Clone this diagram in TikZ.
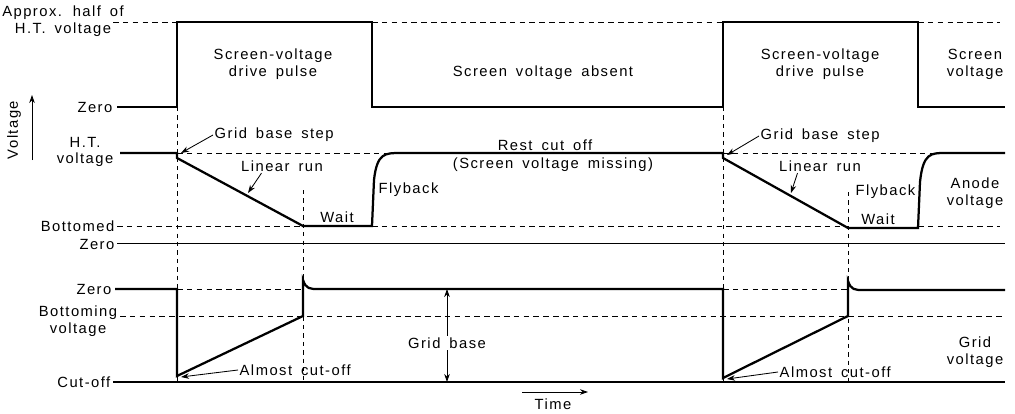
\documentclass[tikz,border=0pt]{standalone}
\usepackage{fontspec}
\setmainfont[LetterSpace=10,WordSpace=1.6]{Liberation Sans}
\usetikzlibrary{positioning,arrows.meta,calc}
\tikzset{
  wave/.style={line width=1.6pt, line join=miter},
  level/.style={dash pattern=on 4pt off 3pt, line width=0.6pt},
  guide/.style={dash pattern=on 3pt off 3pt, line width=0.6pt},
  axisline/.style={line width=0.7pt},
  lbl/.style={font=\fontsize{10.5}{12}\selectfont, inner sep=1pt, align=center},
  arr/.style={-{Stealth[length=2mm,width=1.4mm]}, line width=0.6pt},
}

\begin{document}
\begin{tikzpicture}[x=0.025cm, y=-0.025cm]
    \useasboundingbox (0,0) rectangle (1015,414);
    % guide lines (time marks)
    \draw[guide] (177,107) -- (177,382);
    \draw[guide] (303,190) -- (303,382);
    \draw[guide] (723,107) -- (723,382);
    \draw[guide] (848,192) -- (848,382);
    % dashed levels
    \draw[level] (113,22) -- (177,22);
    \draw[level] (372,22) -- (723,22);
    \draw[level] (918,22) -- (1000,22);
    \draw[level] (177,153) -- (400,153);
    \draw[level] (723,153) -- (945,153);
    \draw[level] (117,226) -- (303,226);
    \draw[level] (372,226) -- (848,226);
    \draw[level] (918,226) -- (1000,226);
    \draw[level] (177,289) -- (303,289);
    \draw[level] (723,289) -- (848,289);
    \draw[level] (120,316) -- (1005,316);
    % zero and cut-off lines
    \draw[axisline] (117,243) -- (1005,243);
    \draw[axisline, line width=1pt] (113,382) -- (1005,382);
    % screen voltage
    \draw[wave] (117,107) -- (177,107) -- (177,22) -- (372,22) -- (372,107)
      -- (723,107) -- (723,22) -- (918,22) -- (918,107) -- (1005,107);
    % anode voltage
    \draw[wave] (120,153) -- (177,153) -- (177,158) -- (303,226) -- (372,226)
      -- (374,180) .. controls (377,153) and (385,153) .. (400,153) -- (723,153)
      -- (723,158) -- (848,228) -- (918,228)
      -- (920,182) .. controls (923,153) and (931,153) .. (945,153) -- (1005,153);
    % grid voltage
    \draw[wave] (115,289) -- (177,289) -- (177,376) -- (303,316) -- (303,280)
      .. controls (306,289) and (310,289) .. (318,289) -- (723,289)
      -- (723,378) -- (848,316) -- (848,281)
      .. controls (851,290) and (855,290) .. (863,290) -- (1005,290);
    % level labels
    \node[lbl] (half) at (63,21) {Approx. half of\\H.T. voltage};
    \node[lbl, anchor=east] (zeroS) at (114,107) {Zero};
    \node[lbl] (htv) at (85,152) {H.T.\\voltage};
    \node[lbl, anchor=east] (bott) at (116,226) {Bottomed};
    \node[lbl, anchor=east] (zeroA) at (116,244) {Zero};
    \node[lbl, anchor=east] (zeroG) at (113,289) {Zero};
    \node[lbl] (botv) at (78,321) {Bottoming\\voltage};
    \node[lbl, anchor=east] (cutoff) at (112,382) {Cut-off};
    \node[lbl, rotate=90] (volt) at (14,130) {Voltage};
    \coordinate (vbot) at (32,160);
    \coordinate (vtop) at (32,95);
    \draw[arr] (vbot) -- (vtop);
    % screen labels
    \node[lbl] (pulse1) at (273,64) {Screen-voltage\\drive pulse};
    \node[lbl] (absent) at (543,73) {Screen voltage absent};
    \node[lbl] (pulse2) at (820,64) {Screen-voltage\\drive pulse};
    \node[lbl] (scrv) at (975,64) {Screen\\voltage};
    % anode labels
    \node[lbl, anchor=west] (step1) at (213,135) {Grid base step};
    \coordinate (step1tip) at (181,153);
    \draw[arr] (step1.west) -- (step1tip);
    \node[lbl] (run1) at (282,166) {Linear run};
    \coordinate (run1tip) at (248,193);
    \draw[arr] (run1.south west) ++(22,0) -- (run1tip);
    \node[lbl] (wait1) at (337,217) {Wait};
    \node[lbl, anchor=west] (fly1) at (377,190) {Flyback};
    \node[lbl] (rest) at (545,145) {Rest cut off};
    \node[lbl] (missing) at (553,165) {(Screen voltage missing)};
    \node[lbl, anchor=west] (step2) at (759,136) {Grid base step};
    \coordinate (step2tip) at (727,155);
    \draw[arr] (step2.west) -- (step2tip);
    \node[lbl] (run2) at (820,166) {Linear run};
    \coordinate (run2tip) at (791,193);
    \draw[arr] (run2.south west) ++(20,0) -- (run2tip);
    \node[lbl, anchor=east] (fly2) at (917,192) {Flyback};
    \node[lbl] (wait2) at (878,219) {Wait};
    \node[lbl] (anv) at (975,193) {Anode\\voltage};
    % grid labels
    \node[lbl] (gbase) at (447,343) {Grid base};
    \coordinate (gbtop) at (447,289);
    \coordinate (gbbot) at (447,382);
    \draw[arr] (gbase.north) -- (gbtop);
    \draw[arr] (gbase.south) -- (gbbot);
    \node[lbl, anchor=west] (almost1) at (238,370) {Almost cut-off};
    \coordinate (almost1tip) at (181,377);
    \draw[arr] (almost1.west) -- (almost1tip);
    \node[lbl, anchor=west] (almost2) at (778,372) {Almost cut-off};
    \coordinate (almost2tip) at (727,379);
    \draw[arr] (almost2.west) -- (almost2tip);
    \node[lbl] (gridv) at (975,352) {Grid\\voltage};
    % time axis
    \node[lbl] (time) at (553,404) {Time};
    \coordinate (tleft) at (522,392);
    \coordinate (tright) at (588,392);
    \draw[arr] (tleft) -- (tright);
\end{tikzpicture}
\end{document}
